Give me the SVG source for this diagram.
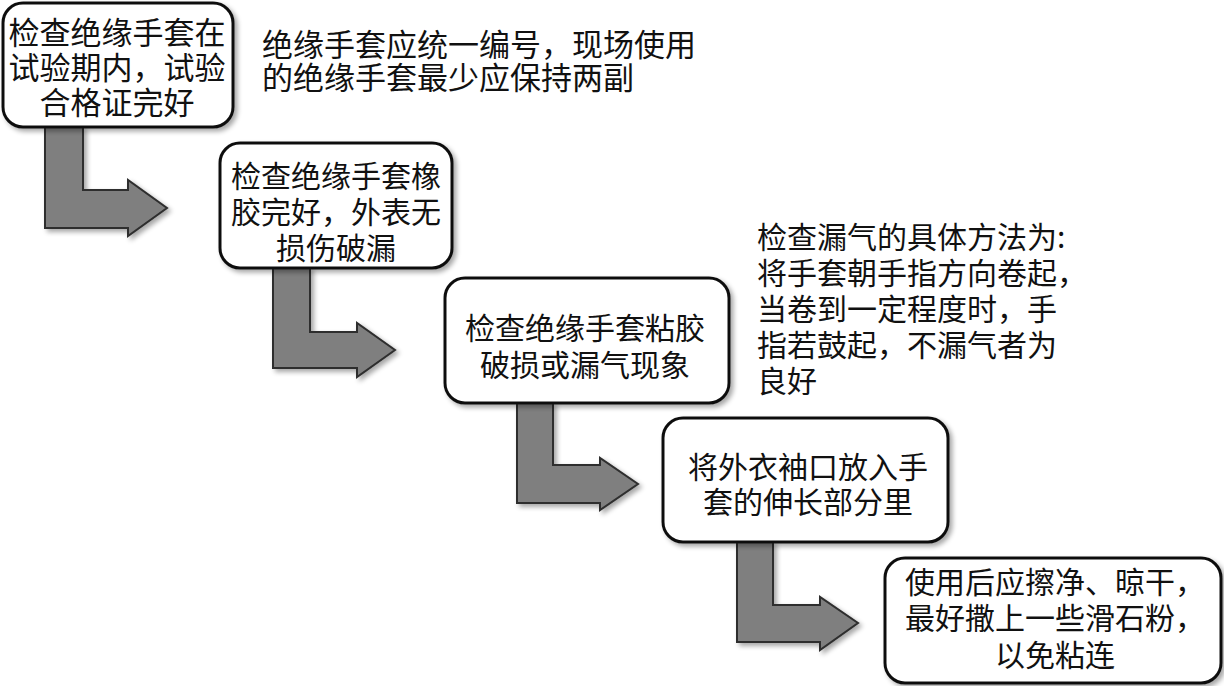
<svg xmlns="http://www.w3.org/2000/svg" width="1224" height="686" viewBox="0 0 1224 686">
<defs>
<filter id="sh" x="-10%" y="-10%" width="130%" height="130%">
<feGaussianBlur in="SourceAlpha" stdDeviation="2.5"/>
<feOffset dx="3" dy="3" result="b"/>
<feComponentTransfer><feFuncA type="linear" slope="0.35"/></feComponentTransfer>
<feMerge><feMergeNode/><feMergeNode in="SourceGraphic"/></feMerge>
</filter>
</defs>
<style>
.box{fill:#fff;stroke:#111;stroke-width:3;filter:url(#sh)}
.arr{fill:#7f7f7f;stroke:#2e2e2e;stroke-width:2;stroke-linejoin:miter;filter:url(#sh)}
text{font-family:"Noto Sans CJK SC","Noto Sans CJK JP",sans-serif;font-size:30px;fill:#111}
.c{text-anchor:middle}
.n{text-anchor:start}
</style>
<rect width="1224" height="686" fill="#fff"/>
<g id="connectors">
<path class="arr" d="M45,127 L83,127 L83,190 L128,190 L128,180 L167,208 L128,236 L128,228 L45,228 Z"/>
<path class="arr" d="M273,268 L310,268 L310,332 L357,332 L357,323 L395,350 L357,377 L357,368 L273,368 Z"/>
<path class="arr" d="M517,403 L553,403 L553,465 L600,465 L600,458 L638,484 L600,510 L600,503 L517,503 Z"/>
<path class="arr" d="M737,542 L773,542 L773,605 L820,605 L820,597 L858,623 L820,650 L820,642 L737,642 Z"/>
</g>
<g id="node1">
<rect class="box" x="3" y="3" width="230" height="124" rx="20"/>
<text class="c" x="117" y="44" style="font-size:31px">检查绝缘手套在</text>
<text class="c" x="117" y="79" style="font-size:31px">试验期内，试验</text>
<text class="c" x="117" y="114" style="font-size:31px">合格证完好</text>
</g>
<g id="node2">
<rect class="box" x="220" y="143" width="232" height="125" rx="20"/>
<text class="c" x="336" y="187">检查绝缘手套橡</text>
<text class="c" x="336" y="223">胶完好，外表无</text>
<text class="c" x="336" y="259">损伤破漏</text>
</g>
<g id="node3">
<rect class="box" x="445" y="278" width="284" height="125" rx="20"/>
<text class="c" x="585" y="339">检查绝缘手套粘胶</text>
<text class="c" x="585" y="376">破损或漏气现象</text>
</g>
<g id="node4">
<rect class="box" x="663" y="418" width="285" height="124" rx="20"/>
<text class="c" x="808" y="478">将外衣袖口放入手</text>
<text class="c" x="808" y="513">套的伸长部分里</text>
</g>
<g id="node5">
<rect class="box" x="885" y="558" width="336" height="125" rx="20"/>
<text class="c" x="1055" y="593">使用后应擦净、晾干，</text>
<text class="c" x="1055" y="629">最好撒上一些滑石粉，</text>
<text class="c" x="1055" y="666">以免粘连</text>
</g>
<g id="note1">
<text class="n" x="262" y="56" style="font-size:31px">绝缘手套应统一编号，现场使用</text>
<text class="n" x="262" y="89" style="font-size:31px">的绝缘手套最少应保持两副</text>
</g>
<g id="note2">
<text class="n" x="757" y="248">检查漏气的具体方法为:</text>
<text class="n" x="757" y="284">将手套朝手指方向卷起，</text>
<text class="n" x="757" y="320">当卷到一定程度时，手</text>
<text class="n" x="757" y="356">指若鼓起，不漏气者为</text>
<text class="n" x="757" y="392">良好</text>
</g>
</svg>
